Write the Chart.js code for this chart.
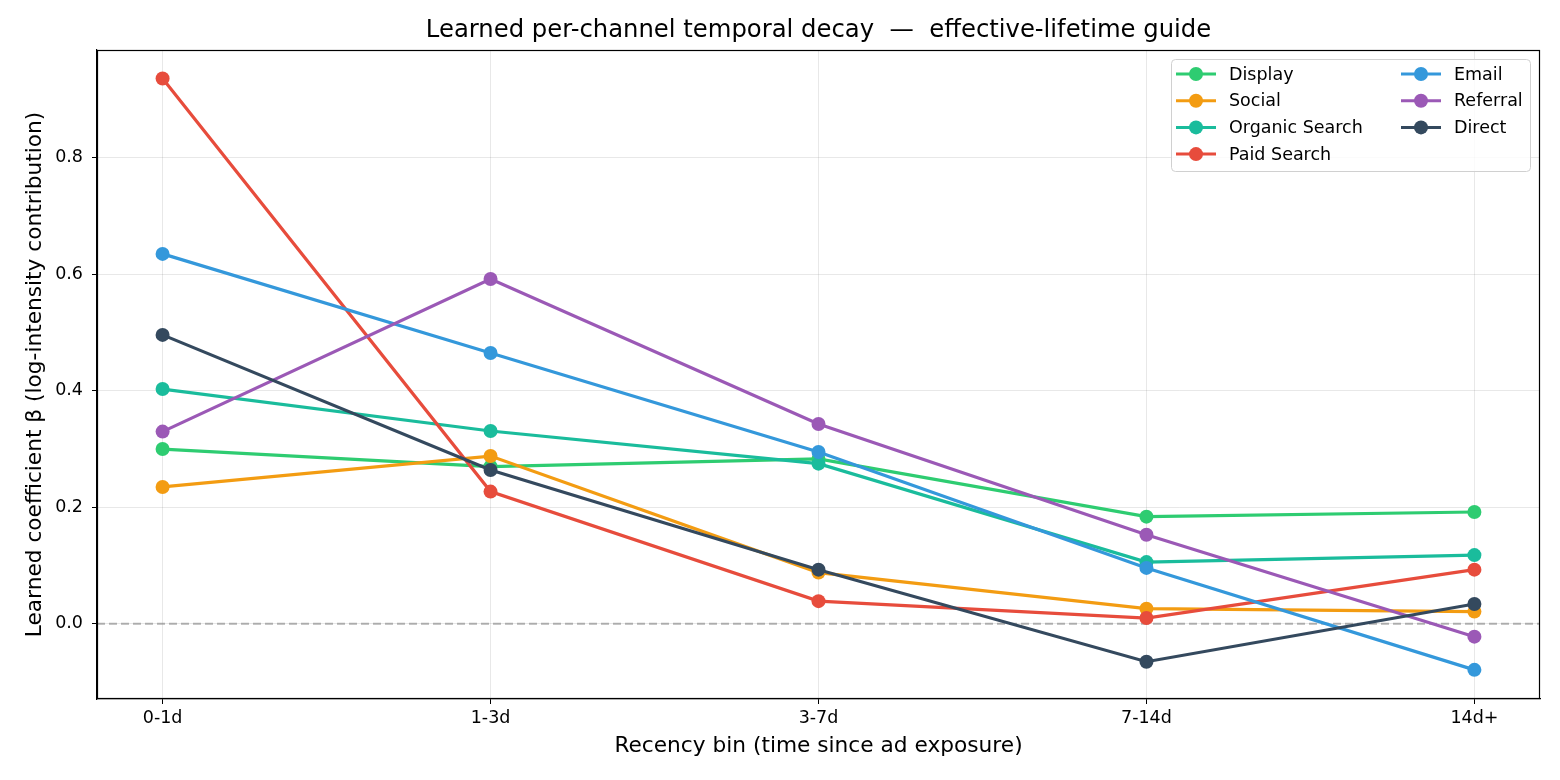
<!DOCTYPE html>
<html>
<head>
<meta charset="utf-8">
<script src="https://cdn.jsdelivr.net/npm/chart.js@4"></script>
<style>
  html, body { margin: 0; padding: 0; background: #fff; }
</style>
</head>
<body>
<canvas id="decay-chart" width="1560" height="780"></canvas>
<script>
const bins = ['0-1d', '1-3d', '3-7d', '7-14d', '14d+'];
const yTicks = [0.0, 0.2, 0.4, 0.6, 0.8];

const display = [0.300, 0.270, 0.283, 0.184, 0.192];
const social = [0.235, 0.288, 0.088, 0.026, 0.021];
const organicSearch = [0.403, 0.331, 0.275, 0.106, 0.118];
const paidSearch = [0.936, 0.227, 0.039, 0.010, 0.093];
const email = [0.635, 0.465, 0.295, 0.096, -0.079];
const referral = [0.330, 0.592, 0.343, 0.153, -0.022];
const direct = [0.496, 0.264, 0.093, -0.065, 0.034];

const channels = ['Display', 'Social', 'Organic Search', 'Paid Search', 'Email', 'Referral', 'Direct'];
const colors = ['#2ecc71', '#f39c12', '#1abc9c', '#e74c3c', '#3498db', '#9b59b6', '#34495e'];
const series = [display, social, organicSearch, paidSearch, email, referral, direct];

const FONT = 'DejaVu Sans';
const TITLE = 'Learned per-channel temporal decay  \u2014  effective-lifetime guide';

// title, zero line, frame and the two-column legend
const extras = {
    id: 'extras',
    beforeDatasetsDraw(chart) {
        const {ctx, chartArea} = chart;
        const y0 = chart.scales.y.getPixelForValue(0);
        ctx.save();
        ctx.strokeStyle = 'rgba(140,140,140,0.65)';
        ctx.lineWidth = 2;
        ctx.setLineDash([8, 4]);
        ctx.beginPath();
        ctx.moveTo(chartArea.left, y0);
        ctx.lineTo(chartArea.right, y0);
        ctx.stroke();
        ctx.restore();
    },
    afterDraw(chart) {
        const {ctx, chartArea} = chart;
        ctx.save();
        ctx.fillStyle = '#000';
        ctx.font = '24.3px "' + FONT + '"';
        ctx.textAlign = 'center';
        ctx.textBaseline = 'middle';
        ctx.fillText(TITLE, (chartArea.left + chartArea.right) / 2, 31);

        ctx.strokeStyle = '#000';
        ctx.lineWidth = 1.2;
        ctx.strokeRect(chartArea.left + 0.5, chartArea.top + 0.5,
            chartArea.right - chartArea.left - 1, chartArea.bottom - chartArea.top - 1);

        // legend box
        const bx = 1171, by = 59, bw = 359, bh = 112;
        ctx.fillStyle = 'rgba(255,255,255,0.8)';
        ctx.strokeStyle = '#d0d0d0';
        ctx.lineWidth = 1;
        ctx.beginPath();
        ctx.roundRect(bx + 0.5, by + 0.5, bw, bh, 4);
        ctx.fill();
        ctx.stroke();

        ctx.font = '17.5px "' + FONT + '"';
        ctx.textAlign = 'left';
        chart.data.datasets.forEach((ds, i) => {
            const col = i < 4 ? 0 : 1;
            const row = i < 4 ? i : i - 4;
            const x = col === 0 ? 1176 : 1401;
            const y = 74 + row * 26.7;
            ctx.strokeStyle = ds.borderColor;
            ctx.lineWidth = 3;
            ctx.beginPath();
            ctx.moveTo(x, y);
            ctx.lineTo(x + 40, y);
            ctx.stroke();
            ctx.fillStyle = ds.borderColor;
            ctx.beginPath();
            ctx.arc(x + 20, y, 7, 0, Math.PI * 2);
            ctx.fill();
            ctx.fillStyle = '#000';
            ctx.fillText(ds.label, x + 53, y + 1);
        });
        ctx.restore();
    }
};

const datasets = channels.map((name, i) => ({
    label: name,
    data: series[i].map((v, j) => ({x: j, y: v})),
    borderColor: colors[i],
    backgroundColor: colors[i],
    pointBackgroundColor: colors[i],
    borderWidth: 3.2,
    pointRadius: 7,
    pointBorderWidth: 0,
    fill: false,
    order: channels.length - i
}));

const ctx = document.getElementById('decay-chart');

new Chart(ctx, {
    type: 'line',
    data: {datasets},
    options: {
        responsive: false,
        animation: false,
        devicePixelRatio: 1,
        layout: {padding: {left: 0, right: 20, top: 50, bottom: 0}},
        plugins: {
            legend: {display: false},
            tooltip: {enabled: false},
            title: {display: false}
        },
        scales: {
            x: {
                type: 'linear',
                min: -0.2,
                max: 4.2,
                afterBuildTicks: axis => { axis.ticks = bins.map((b, i) => ({value: i})); },
                afterFit: axis => { axis.height = 81; },
                ticks: {
                    callback: v => bins[v],
                    color: '#000',
                    font: {family: FONT, size: 17.5},
                    padding: 4,
                    autoSkip: false,
                    maxRotation: 0
                },
                grid: {color: 'rgba(0,0,0,0.09)', tickColor: '#000', tickLength: 5},
                border: {color: '#000', width: 1.2},
                title: {
                    display: true,
                    text: 'Recency bin (time since ad exposure)',
                    color: '#000',
                    font: {family: FONT, size: 21.7},
                    padding: {top: 0, bottom: 21}
                }
            },
            y: {
                min: -0.129,
                max: 0.985,
                afterBuildTicks: axis => { axis.ticks = yTicks.map(v => ({value: v})); },
                afterFit: axis => { axis.width = 97; },
                ticks: {
                    callback: v => v.toFixed(1),
                    color: '#000',
                    font: {family: FONT, size: 17.5},
                    padding: 9
                },
                grid: {color: 'rgba(0,0,0,0.09)', tickColor: '#000', tickLength: 5},
                border: {color: '#000', width: 1.2},
                title: {
                    display: true,
                    text: 'Learned coefficient \u03b2 (log-intensity contribution)',
                    color: '#000',
                    font: {family: FONT, size: 21.7},
                    padding: {top: 22, bottom: 0}
                }
            }
        }
    },
    plugins: [extras]
});
</script>
</body>
</html>
